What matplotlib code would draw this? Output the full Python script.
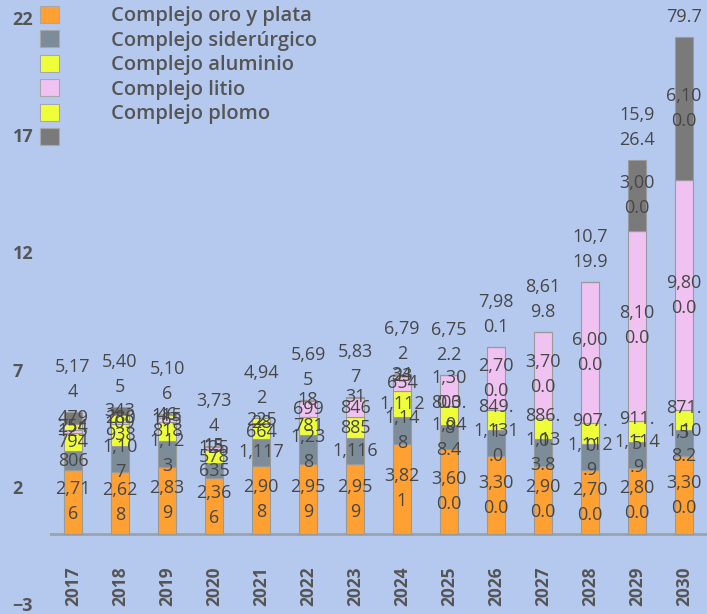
import numpy as np
import matplotlib
matplotlib.use("Agg")
import matplotlib.pyplot as plt
from matplotlib.patches import Patch

plt.rcParams["font.family"] = ["Open Sans", "DejaVu Sans"]

# data (miles), stacked bottom -> top
years = [2017, 2018, 2019, 2020, 2021, 2022, 2023, 2024, 2025, 2026, 2027, 2028, 2029, 2030]
oro = [2716, 2628, 2839, 2366, 2908, 2959, 2959, 3821, 3600.0, 3300.0, 2900.0, 2700.0, 2800.0, 3300.0]
siderurgico = [806, 1107, 1123, 635, 1117, 1238, 1116, 1148, 1048.4, 1131.0, 1133.8, 1112.9, 1114.9, 1108.2]
aluminio = [794, 938, 818, 578, 664, 781, 885, 1112, 803.8, 849.1, 886.0, 907.0, 911.5, 871.5]
litio = [125, 109, 165, 125, 28, 699, 846, 654, 1300.0, 2700.0, 3700.0, 6000.0, 8100.0, 9800.0]
plomo = [254, 280, 115, 15, 225, 18, 31, 23, 0, 0, 0, 0, 0, 0]
otros = [479, 343, 46, 15, 0, 0, 0, 34, 0, 0, 0, 0, 3000.0, 6100.0]
decimals = [False] * 8 + [True] * 6

names = ["Complejo oro y plata", "Complejo siderúrgico", "Complejo aluminio",
         "Complejo litio", "Complejo plomo", ""]
colors = ["#FFA033", "#7D8C99", "#EEFF3A", "#F0C2F2", "#EEFF3A", "#7A7A7A"]
series = [oro, siderurgico, aluminio, litio, plomo, otros]

BG = "#B5C9EF"
TXT = "#474747"

CHAR_W = {"1": 0.6, ",": 0.3, ".": 0.3}


def wrap(s, limit=3.35):
    # labels in the source wrap to the bar width
    lines, cur, w = [], "", 0.0
    for ch in s:
        cw = CHAR_W.get(ch, 1.0)
        if cur and w + cw > limit:
            lines.append(cur)
            cur, w = "", 0.0
        cur += ch
        w += cw
    lines.append(cur)
    return "\n".join(lines)


def fmt(v, dec):
    return "{:,.1f}".format(v) if dec else "{:,.0f}".format(v)


fig = plt.figure(figsize=(7.07, 6.14), dpi=100, facecolor=BG)
ax = fig.add_axes([50 / 707, 10 / 614, 657 / 707, 586 / 614])
ax.set_facecolor(BG)

x = np.arange(len(years))
ax.axhline(0, color="#9aa3b0", lw=2, zorder=1)

bottom = np.zeros(len(years))
for vals, color in zip(series, colors):
    h = np.array(vals, dtype=float) / 1000
    bars = ax.bar(x, h, width=0.38, bottom=bottom, color=color,
                  edgecolor="#9a9a9a", linewidth=0.8, zorder=2)
    labels = [wrap(fmt(v, d)) if v > 0 else "" for v, d in zip(vals, decimals)]
    ax.bar_label(bars, labels=labels, label_type="center", fontsize=13,
                 color=TXT, linespacing=1.5, zorder=3)
    bottom += h

totals = [sum(s[i] for s in series) for i in range(len(years))]
for xi, t, top, d in zip(x, totals, bottom, decimals):
    ax.annotate(wrap(fmt(t, d)), (xi, top), xytext=(0, 8), textcoords="offset points",
                ha="center", va="bottom", fontsize=13, color=TXT, linespacing=1.5,
                annotation_clip=False)

for xi, yr in zip(x, years):
    ax.text(xi, -2.25, str(yr), rotation=90, ha="center", va="center",
            fontsize=12.5, fontweight="bold", color="#555555")

ax.set_xlim(-0.49, 13.49)
ax.set_ylim(-3, 22)
ax.set_xticks([])
ax.set_yticks([-3, 2, 7, 12, 17, 22])
ax.tick_params(axis="y", length=0, pad=27, labelsize=13, labelcolor="#555555")
for lbl in ax.get_yticklabels():
    lbl.set_ha("left")
    lbl.set_fontweight("bold")
for sp in ax.spines.values():
    sp.set_visible(False)

handles = [Patch(facecolor=c, edgecolor="#a8a8a8", linewidth=0.8) for c in colors]
ax.legend(handles, names, loc="upper left", bbox_to_anchor=(40 / 707, 1 - 6 / 614),
          bbox_transform=fig.transFigure, frameon=False,
          prop={"size": 14.5, "weight": "semibold"},
          labelcolor="#555555", handlelength=0.92, handleheight=0.92,
          handletextpad=2.6, labelspacing=0.2, borderpad=0, borderaxespad=0)

fig.savefig("out.png", dpi=100, facecolor=BG)
